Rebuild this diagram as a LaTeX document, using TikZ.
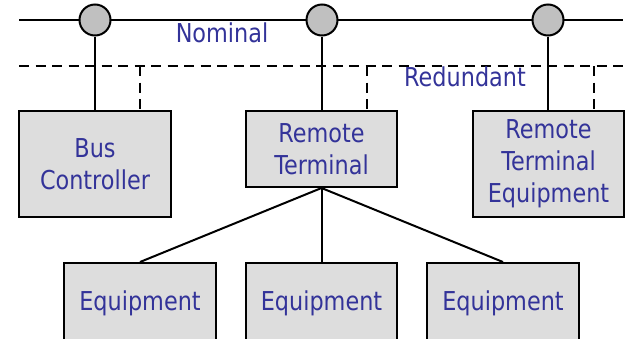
\documentclass[tikz,border=0pt]{standalone}
\usepackage{fontspec}
\setmainfont{DejaVu Sans}[FakeStretch=0.86]
\definecolor{txtblue}{RGB}{51,51,153}
\definecolor{boxgray}{RGB}{221,221,221}
\definecolor{circgray}{RGB}{192,192,192}
\begin{document}
\begin{tikzpicture}[x=1pt,y=-1pt,
  unit/.style={draw=black,line width=2pt,fill=boxgray,rectangle,inner sep=0pt,
    text=txtblue,align=center,font=\fontsize{26}{32}\selectfont},
  tap/.style={draw=black,line width=2pt,fill=circgray,circle,minimum size=31pt,inner sep=0pt},
  busline/.style={line width=2pt},
  redline/.style={line width=2pt,dash pattern=on 10pt off 6.5pt},
  lbl/.style={text=txtblue,font=\fontsize{26}{32}\selectfont,anchor=base,inner sep=0pt}]
\useasboundingbox (0,0) rectangle (629,338);
\clip (0,0) rectangle (629,338);
% bus end points
\coordinate (nA) at (19,20);
\coordinate (nB) at (623,20);
\coordinate (rA) at (19,66);
\coordinate (rB) at (623,66);
\coordinate (r1) at (140,66);
\coordinate (r2) at (367,66);
\coordinate (r3) at (594,66);
% boxes
\node[unit,minimum width=152pt,minimum height=106pt] (bc) at (95,164) {Bus\\Controller};
\node[unit,minimum width=151pt,minimum height=76pt] (rt) at (321.5,149) {Remote\\Terminal};
\node[unit,minimum width=151pt,minimum height=106pt] (rte) at (548.5,164) {Remote\\Terminal\\Equipment};
\node[unit,minimum width=152pt,minimum height=80pt] (e1) at (140,303) {Equipment};
\node[unit,minimum width=151pt,minimum height=80pt] (e2) at (321.5,303) {Equipment};
\node[unit,minimum width=152pt,minimum height=80pt] (e3) at (503,303) {Equipment};
% buses
\draw[busline] (nA) -- (nB);
\draw[redline] (rA) -- (rB);
% dashed stubs
\coordinate (d1) at (r1 |- bc.north);
\coordinate (d2) at (r2 |- rt.north);
\coordinate (d3) at (r3 |- rte.north);
\draw[redline] (r1) -- (d1);
\draw[redline] (r2) -- (d2);
\draw[redline] (r3) -- (d3);
% taps
\node[tap] (t1) at (95,20) {};
\node[tap] (t2) at (322,20) {};
\node[tap] (t3) at (548,20) {};
\draw[busline] (t1.south) -- (bc.north);
\draw[busline] (t2.south) -- (t2.south |- rt.north);
\draw[busline] (t3.south) -- (t3.south |- rte.north);
% tree
\draw[busline] (rt.south) -- (e1.north);
\draw[busline] (rt.south) -- (e2.north);
\draw[busline] (rt.south) -- (e3.north);
% labels
\node[lbl] (nom) at (222,42) {Nominal};
\node[lbl] (red) at (465,86) {Redundant};
\end{tikzpicture}
\end{document}
